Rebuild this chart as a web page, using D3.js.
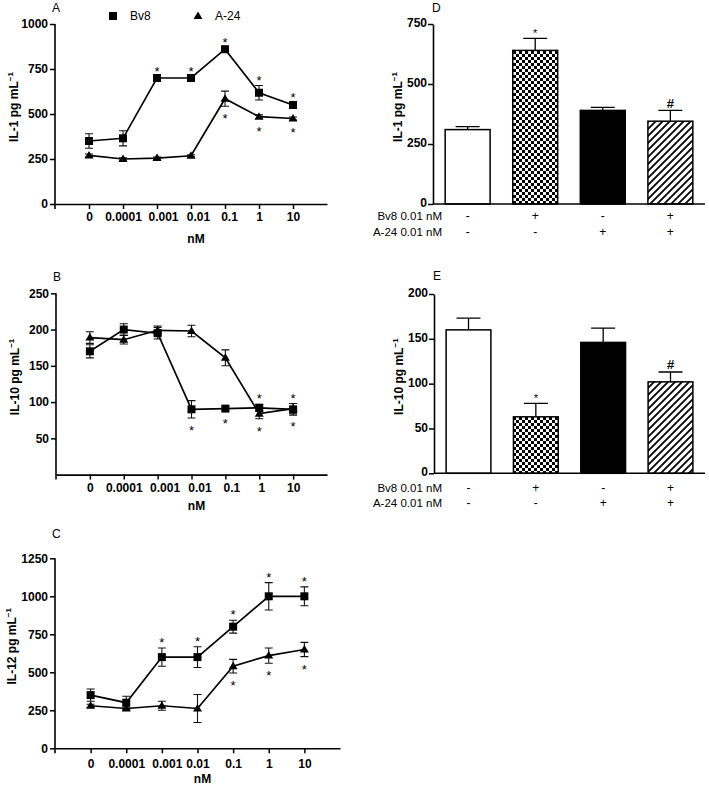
<!DOCTYPE html>
<html><head><meta charset="utf-8">
<script src="https://cdn.jsdelivr.net/npm/d3@7"></script>
<style>
body{margin:0;background:#fff;}
svg{display:block;font-family:"Liberation Sans",Arial,sans-serif;}
</style></head><body>
<svg id="chart" width="709" height="792"></svg>
<script>
// ---------- data ----------
const doses = ["0","0.0001","0.001","0.01","0.1","1","10"];
const seriesNames = ["Bv8","A-24"];

// Panel A: IL-1
const il1Bv8 = [350,365,700,700,860,618,550];
const il1Bv8Err = [40,42,6,6,8,40,10];
const il1A24 = [270,250,255,268,585,485,475];
const il1A24Err = [8,6,6,6,42,10,8];
const il1Bv8Star = ["","","up","up","up","up","up"];
const il1A24Star = ["","","","","down","down","down"];
const il1Ticks = [0,250,500,750,1000];

// Panel B: IL-10
const il10Bv8 = [170,200,195,90,91,92,90];
const il10Bv8Err = [9,8,8,12,3,5,8];
const il10A24 = [189,186,199,198,161,84,91];
const il10A24Err = [8,6,6,8,11,7,7];
const il10Bv8Star = ["","","","down","down","up","up"];
const il10A24Star = ["","","","","","down","down"];
const il10Ticks = [50,100,150,200,250];

// Panel C: IL-12
const il12Bv8 = [350,300,600,600,800,1000,1000];
const il12Bv8Err = [40,42,60,68,42,90,62];
const il12A24 = [280,262,280,262,540,610,650];
const il12A24Err = [10,10,30,92,45,50,47];
const il12Bv8Star = ["","","up","up","up","up","up"];
const il12A24Star = ["","","","","down","down","down"];
const il12Ticks = [0,250,500,750,1000,1250];

// Panels D, E: bars
const treatments = ["Control","Bv8","A-24","Bv8 + A-24"];
const bv8Signs = ["-","+","-","+"];
const a24Signs = ["-","-","+","+"];
const il1Bars = [310,640,390,345];
const il1BarErr = [12,50,13,45];
const il1BarMarks = ["","*","","#"];
const il1BarTicks = [0,250,500,750];
const il10Bars = [160,63,146,102];
const il10BarErr = [13,15,16,11];
const il10BarMarks = ["","*","","#"];
const il10BarTicks = [0,50,100,150,200];
const barFills = ["white","url(#checker)","black","url(#hatch)"];

// ---------- drawing ----------
const svg = d3.select("#chart");
svg.append("rect").attr("width",709).attr("height",792).attr("fill","#fff");

const defs = svg.append("defs");
const chk = defs.append("pattern").attr("id","checker").attr("patternUnits","userSpaceOnUse")
  .attr("width",6).attr("height",6);
chk.append("rect").attr("width",6).attr("height",6).attr("fill","#fff");
chk.append("rect").attr("width",3).attr("height",3).attr("fill","#000");
chk.append("rect").attr("x",3).attr("y",3).attr("width",3).attr("height",3).attr("fill","#000");
const hat = defs.append("pattern").attr("id","hatch").attr("patternUnits","userSpaceOnUse")
  .attr("width",7).attr("height",7);
hat.append("rect").attr("width",7).attr("height",7).attr("fill","#fff");
hat.append("path").attr("d","M-1,1 l2,-2 M0,7 l7,-7 M6,8 l2,-2")
  .attr("stroke","#000").attr("stroke-width",1.8);

const fmt = d3.format("d");

function yLabel(g, x, cy, main) {
  const t = g.append("text").attr("transform",`translate(${x},${cy}) rotate(-90)`)
    .attr("text-anchor","middle").attr("font-weight","bold").attr("font-size",12);
  t.append("tspan").text(main);
  t.append("tspan").attr("font-size",8).attr("dy",-5).text("\u22121");
}

function styleAxis(g){
  g.attr("font-family",null).attr("font-size",null);
  g.selectAll("text").attr("font-size",12).attr("font-weight","bold").attr("fill","#000");
  g.selectAll("line").attr("stroke","#000").attr("stroke-width",1.5);
  g.selectAll("path.domain").attr("stroke","#000").attr("stroke-width",1.6);
}

function starText(g, x, cy, ch, size) {
  g.append("text").attr("x",x).attr("y",cy + size*0.55).attr("text-anchor","middle")
    .attr("font-size",size).attr("font-weight", ch==="#" ? "bold":"normal").text(ch);
}

function linePanel(o) {
  const g = svg.append("g");
  const x = d3.scalePoint().domain(doses).range([o.x0,o.x1]).padding(1);
  const y = d3.scaleLinear().domain([0,o.max]).range([o.yB,o.yT]);
  const axisY = y(0);
  // y axis
  const ya = g.append("g").attr("transform",`translate(${o.x0},0)`)
    .call(d3.axisLeft(y).tickValues(o.ticks).tickFormat(fmt).tickSize(5).tickSizeOuter(0).tickPadding(2));
  ya.select("path.domain").attr("d",`M0,${y(o.ticks[o.ticks.length-1])}V${axisY+5}`);
  styleAxis(ya);
  // x axis
  const xa = g.append("g").attr("transform",`translate(0,${axisY})`)
    .call(d3.axisBottom(x).tickSize(5).tickSizeOuter(0).tickPadding(o.tickPad));
  styleAxis(xa);
  // small label nudges so neighbouring labels do not collide (as in the original figure)
  xa.selectAll(".tick text").attr("dx",(d,i)=>o.nudge[i]);
  g.append("text").attr("x",(o.x0+o.x1)/2 + 5).attr("y",o.nmY).attr("text-anchor","middle")
    .attr("font-size",12).attr("font-weight","bold").text("nM");
  yLabel(g, o.labX, (y(o.ticks[o.ticks.length-1])+axisY)/2 - 7, o.label);
  g.append("text").attr("x",o.x0-3).attr("y",o.letterY).attr("font-size",12).text(o.letter);

  const line = d3.line().x((d,i)=>x(doses[i])).y(d=>y(d));
  o.series.forEach(s=>{
    s.vals.forEach((v,i)=>{
      const cx = x(doses[i]), e = s.err[i];
      g.append("path").attr("d",`M${cx},${y(v-e)}V${y(v+e)}M${cx-4},${y(v-e)}h8M${cx-4},${y(v+e)}h8`)
        .attr("stroke","#111").attr("stroke-width",1.1).attr("fill","none");
    });
    g.append("path").datum(s.vals).attr("d",line).attr("fill","none")
      .attr("stroke","#000").attr("stroke-width",1.7);
  });
  o.series.forEach(s=>{
    s.vals.forEach((v,i)=>{
      const cx = x(doses[i]), cy = y(v);
      if (s.shape==="square") g.append("rect").attr("x",cx-4).attr("y",cy-4).attr("width",8).attr("height",8).attr("fill","#000");
      else g.append("path").attr("d",`M${cx},${cy-4.5}L${cx+4.5},${cy+3}L${cx-4.5},${cy+3}Z`).attr("fill","#000");
      const st = s.star[i];
      if (st==="up") starText(g, cx, y(v+s.err[i]) - 8, "*", 13);
      if (st==="down") starText(g, cx, y(v-s.err[i]) + 10, "*", 13);
    });
  });
}

linePanel({x0:55,x1:327,yT:24,yB:204,max:1000,ticks:il1Ticks,label:"IL-1 pg mL",labX:18,
  letter:"A",letterY:12,nmY:243,tickPad:3,nudge:[0,0,6,7,4,0,0],
  series:[{vals:il1Bv8,err:il1Bv8Err,star:il1Bv8Star,shape:"square"},
          {vals:il1A24,err:il1A24Err,star:il1A24Star,shape:"tri"}]});
linePanel({x0:56,x1:327,yT:293.3,yB:474.6,max:250,ticks:il10Ticks,label:"IL-10 pg mL",labX:19,
  letter:"B",letterY:281,nmY:510,tickPad:4,nudge:[0,0,7,8,6,2,0],
  series:[{vals:il10Bv8,err:il10Bv8Err,star:il10Bv8Star,shape:"square"},
          {vals:il10A24,err:il10A24Err,star:il10A24Star,shape:"tri"}]});
linePanel({x0:55,x1:340,yT:558.3,yB:748.3,max:1250,ticks:il12Ticks,label:"IL-12 pg mL",labX:16,
  letter:"C",letterY:538,nmY:783,tickPad:6,nudge:[0,0,5,0,0,0,0],
  series:[{vals:il12Bv8,err:il12Bv8Err,star:il12Bv8Star,shape:"square"},
          {vals:il12A24,err:il12A24Err,star:il12A24Star,shape:"tri"}]});

// legend
const lg = svg.append("g");
lg.append("rect").attr("x",109).attr("y",12).attr("width",8).attr("height",8).attr("fill","#000");
lg.append("text").attr("x",130).attr("y",20).attr("font-size",12).text(seriesNames[0]);
lg.append("path").attr("d","M198,11.5L202.5,19L193.5,19Z").attr("fill","#000");
lg.append("text").attr("x",215).attr("y",20).attr("font-size",12).text(seriesNames[1]);

function barPanel(o) {
  const g = svg.append("g");
  const x = d3.scaleBand().domain(treatments).range([o.x0,o.x1]).paddingInner(0.335).paddingOuter(0.18);
  const y = d3.scaleLinear().domain([0,o.max]).range([o.yB,o.yT]);
  o.vals.forEach((v,i)=>{
    const bx = x(treatments[i]), bw = x.bandwidth(), cx = bx + bw/2;
    g.append("path").attr("d",`M${cx},${y(v)}V${y(v+o.err[i])}M${cx-12},${y(v+o.err[i])}h24`)
      .attr("stroke","#000").attr("stroke-width",1.3);
    g.append("rect").attr("x",bx).attr("y",y(v)).attr("width",bw).attr("height",y(0)-y(v))
      .attr("fill",barFills[i]).attr("stroke","#000").attr("stroke-width",1.5);
    if (o.marks[i]) starText(g, cx, y(v+o.err[i]) - (o.marks[i]==="#"?10:7), o.marks[i], o.marks[i]==="#"?13:11);
    g.append("text").attr("x",cx).attr("y",o.row1).attr("text-anchor","middle").attr("font-size",12).text(bv8Signs[i]);
    g.append("text").attr("x",cx).attr("y",o.row2).attr("text-anchor","middle").attr("font-size",12).text(a24Signs[i]);
  });
  const ya = g.append("g").attr("transform",`translate(${o.x0},0)`)
    .call(d3.axisLeft(y).tickValues(o.ticks).tickFormat(fmt).tickSize(5).tickSizeOuter(0).tickPadding(1));
  styleAxis(ya);
  ya.selectAll(".tick text").attr("dy","0.22em");
  g.append("line").attr("x1",o.x0).attr("x2",o.x1).attr("y1",y(0)).attr("y2",y(0))
    .attr("stroke","#000").attr("stroke-width",1.6);
  g.append("text").attr("x",442).attr("y",o.row1).attr("text-anchor","end").attr("font-size",11.5).text("Bv8 0.01 nM");
  g.append("text").attr("x",442).attr("y",o.row2).attr("text-anchor","end").attr("font-size",11.5).text("A-24 0.01 nM");
  yLabel(g, o.labX, (o.yT+o.yB)/2 - 7, o.label);
  g.append("text").attr("x",o.x0-1).attr("y",o.letterY).attr("font-size",12).text(o.letter);
}

barPanel({x0:433,x1:705,yT:24,yB:204,max:750,ticks:il1BarTicks,vals:il1Bars,err:il1BarErr,marks:il1BarMarks,
  label:"IL-1 pg mL",labX:402,letter:"D",letterY:12,row1:219.5,row2:235.5});
barPanel({x0:434,x1:705,yT:294,yB:473.3,max:200,ticks:il10BarTicks,vals:il10Bars,err:il10BarErr,marks:il10BarMarks,
  label:"IL-10 pg mL",labX:403,letter:"E",letterY:280,row1:492,row2:507});
</script></body></html>
